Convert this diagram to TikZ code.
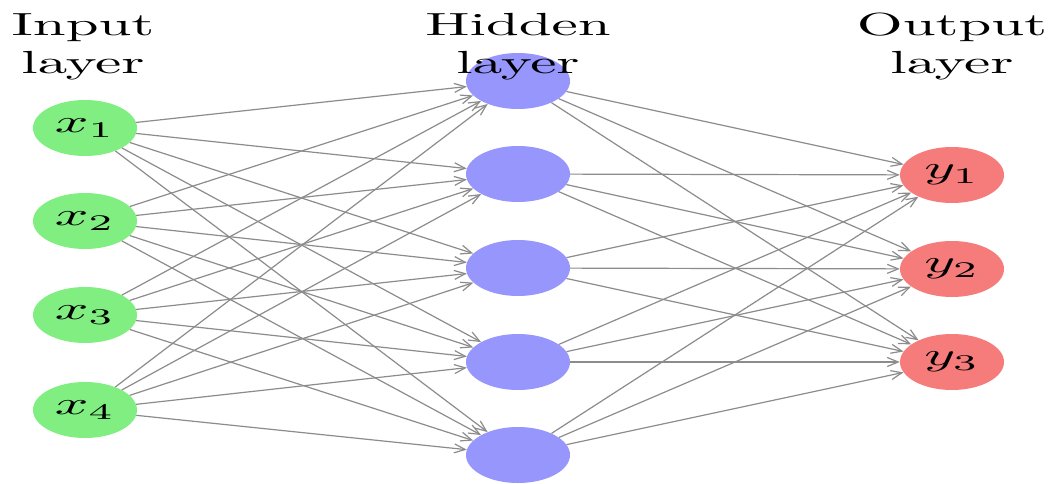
\documentclass[tikz,border=0pt]{standalone}
\usepackage{graphicx}
\usetikzlibrary{shapes.geometric,arrows.meta}
\definecolor{ingreen}{RGB}{128,238,128}
\definecolor{hidblue}{RGB}{150,150,252}
\definecolor{outred}{RGB}{246,124,124}
\definecolor{edgegray}{RGB}{140,140,140}
\tikzset{
  neuron/.style={ellipse, minimum width=104pt, minimum height=56pt, inner sep=0pt},
  inneuron/.style={neuron, fill=ingreen},
  hidneuron/.style={neuron, fill=hidblue},
  outneuron/.style={neuron, fill=outred},
  conn/.style={draw=edgegray, line width=1.2pt, -{Straight Barb[length=11pt,width=9pt]}},
  lbl/.style={inner sep=0pt, anchor=base}
}
\newcommand{\stretchtext}[1]{\scalebox{5.9}[3.2]{#1}}
\begin{document}
\begin{tikzpicture}[x=1pt,y=1pt]
  \useasboundingbox[fill=white] (0,0) rectangle (1056,483);
  % input layer
  \foreach \i/\y in {1/355,2/262,3/168,4/73}
    \node[inneuron] (I\i) at (85,\y) {\stretchtext{$x_{\i}$}};
  % hidden layer
  \foreach \j/\y in {1/402,2/309,3/215,4/121,5/28}
    \node[hidneuron] (H\j) at (518,\y) {};
  % output layer
  \foreach \k/\y in {1/308,2/214,3/121}
    \node[outneuron] (O\k) at (952,\y) {\stretchtext{$y_{\k}$}};
  % connections
  \foreach \i in {1,...,4}
    \foreach \j in {1,...,5}
      \draw[conn] (I\i) -- (H\j);
  \foreach \j in {1,...,5}
    \foreach \k in {1,...,3}
      \draw[conn] (H\j) -- (O\k);
  % labels
  \node[lbl] (LI) at (83,448) {\stretchtext{\begin{tabular}[t]{@{}c@{}}Input\\layer\end{tabular}}};
  \node[lbl] (LH) at (518,448) {\stretchtext{\begin{tabular}[t]{@{}c@{}}Hidden\\layer\end{tabular}}};
  \node[lbl] (LO) at (952,448) {\stretchtext{\begin{tabular}[t]{@{}c@{}}Output\\layer\end{tabular}}};
\end{tikzpicture}
\end{document}
